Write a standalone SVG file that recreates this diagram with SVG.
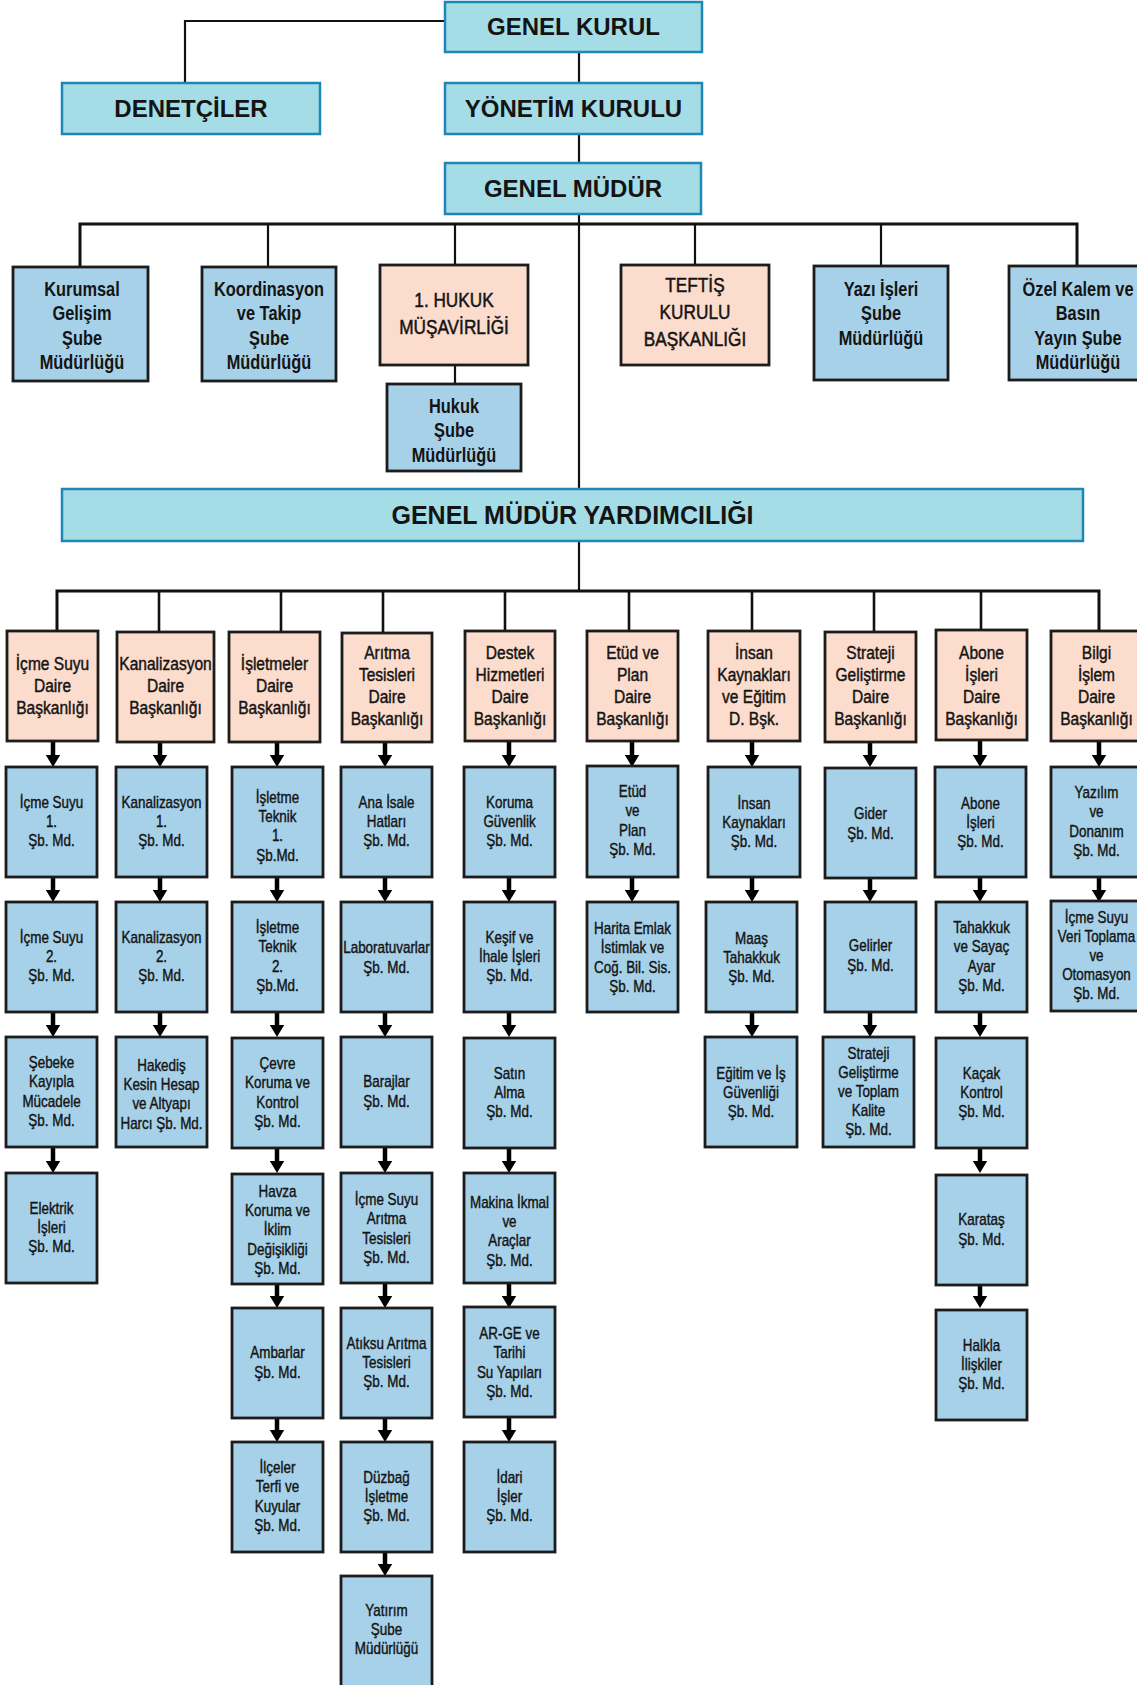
<svg xmlns="http://www.w3.org/2000/svg" width="1137" height="1685" viewBox="0 0 1137 1685">
<defs>
<style>
.c{fill:#a5dde7;stroke:#1f86b6;stroke-width:2.5}
.bx{fill:#a6d1e9;stroke:#1c1c1c;stroke-width:2.8}
.pk{fill:#fcdccc;stroke:#1c1c1c;stroke-width:2.8}
text{font-family:"Liberation Sans",Arial,sans-serif;fill:#141414;text-anchor:middle}
.h{font-size:24px;font-weight:bold}
.b{font-size:19.5px;font-weight:bold}
.pr{font-size:20.5px;stroke:#141414;stroke-width:0.5}
.p{font-size:18.5px;stroke:#141414;stroke-width:0.45}
.s{font-size:16px;stroke:#141414;stroke-width:0.4}
.ln{fill:none;stroke:#111}
.ar{stroke:#000;stroke-width:4.5}
</style>
<marker id="ah" markerUnits="userSpaceOnUse" markerWidth="12.5" markerHeight="15" viewBox="0 0 12.5 15" refX="6" refY="7.5" orient="auto"><path d="M0,0 L12.5,7.5 L0,15 z" fill="#000"/></marker>
</defs>
<rect width="1137" height="1685" fill="#fff"/>

<g id="connectors">
<path class="ln" stroke-width="2.2" d="M445 21 H185 V83"/>
<path class="ln" stroke-width="2.2" d="M579 52 V83 M579 134 V163 M579 214 V489 M579 541 V591"/>
<path class="ln" stroke-width="3" d="M80 267 V224 H1077 V266"/>
<path class="ln" stroke-width="2.2" d="M268 224 V267 M455 224 V265 M695 224 V265 M881 224 V266 M455 365 V384"/>
<path class="ln" stroke-width="3" d="M57 631 V591 H1099 V631"/>
<path class="ln" stroke-width="2.6" d="M159 591 V632 M281 591 V632 M383 591 V633 M505 591 V631 M629 591 V631 M752 591 V631 M874 591 V632 M981 591 V631"/>
<g class="ar" marker-end="url(#ah)">
<line x1="53" y1="741" x2="53" y2="760.5"/><line x1="53" y1="877" x2="53" y2="895.5"/><line x1="53" y1="1012" x2="53" y2="1030.5"/><line x1="53" y1="1147" x2="53" y2="1166.5"/>
<line x1="160" y1="742" x2="160" y2="760.5"/><line x1="160" y1="877" x2="160" y2="895.5"/><line x1="160" y1="1012" x2="160" y2="1030.5"/>
<line x1="277" y1="742" x2="277" y2="760.5"/><line x1="277" y1="877" x2="277" y2="895.5"/><line x1="277" y1="1012" x2="277" y2="1030.5"/><line x1="277" y1="1147" x2="277" y2="1166.5"/><line x1="277" y1="1283" x2="277" y2="1301.5"/><line x1="277" y1="1418" x2="277" y2="1435.5"/>
<line x1="385" y1="742" x2="385" y2="760.5"/><line x1="385" y1="877" x2="385" y2="895.5"/><line x1="385" y1="1012" x2="385" y2="1030.5"/><line x1="385" y1="1147" x2="385" y2="1166.5"/><line x1="385" y1="1283" x2="385" y2="1301.5"/><line x1="385" y1="1418" x2="385" y2="1435.5"/><line x1="385" y1="1552" x2="385" y2="1569.5"/>
<line x1="509" y1="741" x2="509" y2="760.5"/><line x1="509" y1="877" x2="509" y2="895.5"/><line x1="509" y1="1012" x2="509" y2="1030.5"/><line x1="509" y1="1147" x2="509" y2="1166.5"/><line x1="509" y1="1283" x2="509" y2="1301.5"/><line x1="509" y1="1418" x2="509" y2="1435.5"/>
<line x1="632" y1="741" x2="632" y2="760.5"/><line x1="632" y1="877" x2="632" y2="895.5"/>
<line x1="752" y1="741" x2="752" y2="760.5"/><line x1="752" y1="877" x2="752" y2="895.5"/><line x1="752" y1="1012" x2="752" y2="1030.5"/>
<line x1="870" y1="742" x2="870" y2="760.5"/><line x1="870" y1="877" x2="870" y2="895.5"/><line x1="870" y1="1012" x2="870" y2="1030.5"/>
<line x1="980" y1="741" x2="980" y2="760.5"/><line x1="980" y1="877" x2="980" y2="895.5"/><line x1="980" y1="1012" x2="980" y2="1030.5"/><line x1="980" y1="1147" x2="980" y2="1166.5"/><line x1="980" y1="1283" x2="980" y2="1301.5"/>
<line x1="1099" y1="741" x2="1099" y2="760.5"/><line x1="1099" y1="877" x2="1099" y2="895.5"/>
</g>
</g>

<g id="genel-kurul"><rect class="c" x="445" y="2" width="257" height="50"/><text class="h" x="573.5" y="35">GENEL KURUL</text></g>
<g id="denetciler"><rect class="c" x="62" y="83" width="258" height="51"/><text class="h" x="191" y="117">DENETÇİLER</text></g>
<g id="yonetim-kurulu"><rect class="c" x="445" y="83" width="257" height="51"/><text class="h" x="573.5" y="117">YÖNETİM KURULU</text></g>
<g id="genel-mudur"><rect class="c" x="445" y="163" width="256" height="51"/><text class="h" x="573" y="197">GENEL MÜDÜR</text></g>

<g id="kurumsal"><rect class="bx" x="13" y="267" width="135" height="114"/><text class="b" transform="translate(82 0) scale(.84 1)"><tspan x="0" y="296">Kurumsal</tspan><tspan x="0" y="320.3">Gelişim</tspan><tspan x="0" y="344.6">Şube</tspan><tspan x="0" y="369">Müdürlüğü</tspan></text></g>
<g id="koordinasyon"><rect class="bx" x="202" y="267" width="134" height="114"/><text class="b" transform="translate(269 0) scale(.84 1)"><tspan x="0" y="296">Koordinasyon</tspan><tspan x="0" y="320.3">ve Takip</tspan><tspan x="0" y="344.6">Şube</tspan><tspan x="0" y="369">Müdürlüğü</tspan></text></g>
<g id="hukuk-musavirligi"><rect class="pk" x="380" y="265" width="148" height="100"/><text class="pr" transform="translate(454 0) scale(.84 1)"><tspan x="0" y="307">1. HUKUK</tspan><tspan x="0" y="334">MÜŞAVİRLİĞİ</tspan></text></g>
<g id="hukuk-sube"><rect class="bx" x="387" y="384" width="134" height="87"/><text class="b" transform="translate(454 0) scale(.84 1)"><tspan x="0" y="413">Hukuk</tspan><tspan x="0" y="437.5">Şube</tspan><tspan x="0" y="462">Müdürlüğü</tspan></text></g>
<g id="teftis"><rect class="pk" x="621" y="265" width="148" height="100"/><text class="pr" transform="translate(695 0) scale(.84 1)"><tspan x="0" y="292">TEFTİŞ</tspan><tspan x="0" y="319">KURULU</tspan><tspan x="0" y="346">BAŞKANLIĞI</tspan></text></g>
<g id="yazi-isleri"><rect class="bx" x="814" y="266" width="134" height="114"/><text class="b" transform="translate(881 0) scale(.84 1)"><tspan x="0" y="296">Yazı İşleri</tspan><tspan x="0" y="320.3">Şube</tspan><tspan x="0" y="344.6">Müdürlüğü</tspan></text></g>
<g id="ozel-kalem"><rect class="bx" x="1009" y="266" width="140" height="114"/><text class="b" transform="translate(1078 0) scale(.84 1)"><tspan x="0" y="296">Özel Kalem ve</tspan><tspan x="0" y="320.3">Basın</tspan><tspan x="0" y="344.6">Yayın Şube</tspan><tspan x="0" y="369">Müdürlüğü</tspan></text></g>

<g id="gmy"><rect class="c" x="62" y="489" width="1021" height="52"/><text class="h" style="font-size:25px" x="572.5" y="524">GENEL MÜDÜR YARDIMCILIĞI</text></g>

<g id="d-icmesuyu"><rect class="pk" x="7" y="631" width="91" height="110"/><text class="p" transform="translate(52.5 0) scale(.84 1)"><tspan x="0" y="670.5">İçme Suyu</tspan><tspan x="0" y="692.5">Daire</tspan><tspan x="0" y="714.5">Başkanlığı</tspan></text></g>
<g id="d-kanalizasyon"><rect class="pk" x="117" y="632" width="97" height="110"/><text class="p" transform="translate(165.5 0) scale(.84 1)"><tspan x="0" y="670.5">Kanalizasyon</tspan><tspan x="0" y="692.5">Daire</tspan><tspan x="0" y="714.5">Başkanlığı</tspan></text></g>
<g id="d-isletmeler"><rect class="pk" x="229" y="632" width="91" height="110"/><text class="p" transform="translate(274.5 0) scale(.84 1)"><tspan x="0" y="670.5">İşletmeler</tspan><tspan x="0" y="692.5">Daire</tspan><tspan x="0" y="714.5">Başkanlığı</tspan></text></g>
<g id="d-aritma"><rect class="pk" x="342" y="633" width="90" height="109"/><text class="p" transform="translate(387 0) scale(.84 1)"><tspan x="0" y="659.5">Arıtma</tspan><tspan x="0" y="681.5">Tesisleri</tspan><tspan x="0" y="703.5">Daire</tspan><tspan x="0" y="725.5">Başkanlığı</tspan></text></g>
<g id="d-destek"><rect class="pk" x="465" y="631" width="90" height="110"/><text class="p" transform="translate(510 0) scale(.84 1)"><tspan x="0" y="659.5">Destek</tspan><tspan x="0" y="681.5">Hizmetleri</tspan><tspan x="0" y="703.5">Daire</tspan><tspan x="0" y="725.5">Başkanlığı</tspan></text></g>
<g id="d-etud"><rect class="pk" x="587" y="631" width="91" height="110"/><text class="p" transform="translate(632.5 0) scale(.84 1)"><tspan x="0" y="659.5">Etüd ve</tspan><tspan x="0" y="681.5">Plan</tspan><tspan x="0" y="703.5">Daire</tspan><tspan x="0" y="725.5">Başkanlığı</tspan></text></g>
<g id="d-insan"><rect class="pk" x="708" y="631" width="92" height="110"/><text class="p" transform="translate(754 0) scale(.84 1)"><tspan x="0" y="659.5">İnsan</tspan><tspan x="0" y="681.5">Kaynakları</tspan><tspan x="0" y="703.5">ve Eğitim</tspan><tspan x="0" y="725.5">D. Bşk.</tspan></text></g>
<g id="d-strateji"><rect class="pk" x="825" y="632" width="91" height="110"/><text class="p" transform="translate(870.5 0) scale(.84 1)"><tspan x="0" y="659.5">Strateji</tspan><tspan x="0" y="681.5">Geliştirme</tspan><tspan x="0" y="703.5">Daire</tspan><tspan x="0" y="725.5">Başkanlığı</tspan></text></g>
<g id="d-abone"><rect class="pk" x="936" y="630" width="91" height="110"/><text class="p" transform="translate(981.5 0) scale(.84 1)"><tspan x="0" y="659.5">Abone</tspan><tspan x="0" y="681.5">İşleri</tspan><tspan x="0" y="703.5">Daire</tspan><tspan x="0" y="725.5">Başkanlığı</tspan></text></g>
<g id="d-bilgi"><rect class="pk" x="1051" y="631" width="95" height="110"/><text class="p" transform="translate(1096.5 0) scale(.84 1)"><tspan x="0" y="659.5">Bilgi</tspan><tspan x="0" y="681.5">İşlem</tspan><tspan x="0" y="703.5">Daire</tspan><tspan x="0" y="725.5">Başkanlığı</tspan></text></g>

<g id="c1-r1"><rect class="bx" x="6" y="767" width="91" height="110"/><text class="s" transform="translate(51.5 0) scale(.84 1)"><tspan x="0" y="807.8">İçme Suyu</tspan><tspan x="0" y="827">1.</tspan><tspan x="0" y="846.2">Şb. Md.</tspan></text></g>
<g id="c1-r2"><rect class="bx" x="6" y="902" width="91" height="110"/><text class="s" transform="translate(51.5 0) scale(.84 1)"><tspan x="0" y="942.8">İçme Suyu</tspan><tspan x="0" y="962">2.</tspan><tspan x="0" y="981.2">Şb. Md.</tspan></text></g>
<g id="c1-r3"><rect class="bx" x="6" y="1037" width="91" height="110"/><text class="s" transform="translate(51.5 0) scale(.84 1)"><tspan x="0" y="1068.2">Şebeke</tspan><tspan x="0" y="1087.4">Kayıpla</tspan><tspan x="0" y="1106.6">Mücadele</tspan><tspan x="0" y="1125.8">Şb. Md.</tspan></text></g>
<g id="c1-r4"><rect class="bx" x="6" y="1173" width="91" height="110"/><text class="s" transform="translate(51.5 0) scale(.84 1)"><tspan x="0" y="1213.8">Elektrik</tspan><tspan x="0" y="1233">İşleri</tspan><tspan x="0" y="1252.2">Şb. Md.</tspan></text></g>

<g id="c2-r1"><rect class="bx" x="116" y="767" width="91" height="110"/><text class="s" transform="translate(161.5 0) scale(.84 1)"><tspan x="0" y="807.8">Kanalizasyon</tspan><tspan x="0" y="827">1.</tspan><tspan x="0" y="846.2">Şb. Md.</tspan></text></g>
<g id="c2-r2"><rect class="bx" x="116" y="902" width="91" height="110"/><text class="s" transform="translate(161.5 0) scale(.84 1)"><tspan x="0" y="942.8">Kanalizasyon</tspan><tspan x="0" y="962">2.</tspan><tspan x="0" y="981.2">Şb. Md.</tspan></text></g>
<g id="c2-r3"><rect class="bx" x="116" y="1037" width="91" height="110"/><text class="s" transform="translate(161.5 0) scale(.84 1)"><tspan x="0" y="1071">Hakediş</tspan><tspan x="0" y="1090.2">Kesin Hesap</tspan><tspan x="0" y="1109.4">ve Altyapı</tspan><tspan x="0" y="1128.6">Harcı Şb. Md.</tspan></text></g>

<g id="c3-r1"><rect class="bx" x="232" y="767" width="91" height="110"/><text class="s" transform="translate(277.5 0) scale(.84 1)"><tspan x="0" y="803">İşletme</tspan><tspan x="0" y="822.2">Teknik</tspan><tspan x="0" y="841.4">1.</tspan><tspan x="0" y="860.6">Şb.Md.</tspan></text></g>
<g id="c3-r2"><rect class="bx" x="232" y="902" width="91" height="110"/><text class="s" transform="translate(277.5 0) scale(.84 1)"><tspan x="0" y="933.2">İşletme</tspan><tspan x="0" y="952.4">Teknik</tspan><tspan x="0" y="971.6">2.</tspan><tspan x="0" y="990.8">Şb.Md.</tspan></text></g>
<g id="c3-r3"><rect class="bx" x="232" y="1038" width="91" height="110"/><text class="s" transform="translate(277.5 0) scale(.84 1)"><tspan x="0" y="1069.2">Çevre</tspan><tspan x="0" y="1088.4">Koruma ve</tspan><tspan x="0" y="1107.6">Kontrol</tspan><tspan x="0" y="1126.8">Şb. Md.</tspan></text></g>
<g id="c3-r4"><rect class="bx" x="232" y="1174" width="91" height="110"/><text class="s" transform="translate(277.5 0) scale(.84 1)"><tspan x="0" y="1197">Havza</tspan><tspan x="0" y="1216.2">Koruma ve</tspan><tspan x="0" y="1235.4">İklim</tspan><tspan x="0" y="1254.6">Değişikliği</tspan><tspan x="0" y="1273.8">Şb. Md.</tspan></text></g>
<g id="c3-r5"><rect class="bx" x="232" y="1308" width="91" height="110"/><text class="s" transform="translate(277.5 0) scale(.84 1)"><tspan x="0" y="1358.4">Ambarlar</tspan><tspan x="0" y="1377.6">Şb. Md.</tspan></text></g>
<g id="c3-r6"><rect class="bx" x="232" y="1442" width="91" height="110"/><text class="s" transform="translate(277.5 0) scale(.84 1)"><tspan x="0" y="1473.2">İlçeler</tspan><tspan x="0" y="1492.4">Terfi ve</tspan><tspan x="0" y="1511.6">Kuyular</tspan><tspan x="0" y="1530.8">Şb. Md.</tspan></text></g>

<g id="c4-r1"><rect class="bx" x="341" y="767" width="91" height="110"/><text class="s" transform="translate(386.5 0) scale(.84 1)"><tspan x="0" y="807.8">Ana İsale</tspan><tspan x="0" y="827">Hatları</tspan><tspan x="0" y="846.2">Şb. Md.</tspan></text></g>
<g id="c4-r2"><rect class="bx" x="341" y="902" width="91" height="110"/><text class="s" transform="translate(386.5 0) scale(.84 1)"><tspan x="0" y="953.4">Laboratuvarlar</tspan><tspan x="0" y="972.6">Şb. Md.</tspan></text></g>
<g id="c4-r3"><rect class="bx" x="341" y="1037" width="91" height="110"/><text class="s" transform="translate(386.5 0) scale(.84 1)"><tspan x="0" y="1087.4">Barajlar</tspan><tspan x="0" y="1106.6">Şb. Md.</tspan></text></g>
<g id="c4-r4"><rect class="bx" x="341" y="1173" width="91" height="110"/><text class="s" transform="translate(386.5 0) scale(.84 1)"><tspan x="0" y="1205.2">İçme Suyu</tspan><tspan x="0" y="1224.4">Arıtma</tspan><tspan x="0" y="1243.6">Tesisleri</tspan><tspan x="0" y="1262.8">Şb. Md.</tspan></text></g>
<g id="c4-r5"><rect class="bx" x="341" y="1308" width="91" height="110"/><text class="s" transform="translate(386.5 0) scale(.84 1)"><tspan x="0" y="1348.8">Atıksu Arıtma</tspan><tspan x="0" y="1368">Tesisleri</tspan><tspan x="0" y="1387.2">Şb. Md.</tspan></text></g>
<g id="c4-r6"><rect class="bx" x="341" y="1442" width="91" height="110"/><text class="s" transform="translate(386.5 0) scale(.84 1)"><tspan x="0" y="1482.8">Düzbağ</tspan><tspan x="0" y="1502">İşletme</tspan><tspan x="0" y="1521.2">Şb. Md.</tspan></text></g>
<g id="c4-r7"><rect class="bx" x="341" y="1576" width="91" height="120"/><text class="s" transform="translate(386.5 0) scale(.84 1)"><tspan x="0" y="1616">Yatırım</tspan><tspan x="0" y="1635.2">Şube</tspan><tspan x="0" y="1654.4">Müdürlüğü</tspan></text></g>

<g id="c5-r1"><rect class="bx" x="464" y="767" width="91" height="110"/><text class="s" transform="translate(509.5 0) scale(.84 1)"><tspan x="0" y="807.8">Koruma</tspan><tspan x="0" y="827">Güvenlik</tspan><tspan x="0" y="846.2">Şb. Md.</tspan></text></g>
<g id="c5-r2"><rect class="bx" x="464" y="902" width="91" height="110"/><text class="s" transform="translate(509.5 0) scale(.84 1)"><tspan x="0" y="942.8">Keşif ve</tspan><tspan x="0" y="962">İhale İşleri</tspan><tspan x="0" y="981.2">Şb. Md.</tspan></text></g>
<g id="c5-r3"><rect class="bx" x="464" y="1038" width="91" height="110"/><text class="s" transform="translate(509.5 0) scale(.84 1)"><tspan x="0" y="1078.8">Satın</tspan><tspan x="0" y="1098">Alma</tspan><tspan x="0" y="1117.2">Şb. Md.</tspan></text></g>
<g id="c5-r4"><rect class="bx" x="464" y="1173" width="91" height="110"/><text class="s" transform="translate(509.5 0) scale(.84 1)"><tspan x="0" y="1208">Makina İkmal</tspan><tspan x="0" y="1227.2">ve</tspan><tspan x="0" y="1246.4">Araçlar</tspan><tspan x="0" y="1265.6">Şb. Md.</tspan></text></g>
<g id="c5-r5"><rect class="bx" x="464" y="1307" width="91" height="110"/><text class="s" transform="translate(509.5 0) scale(.84 1)"><tspan x="0" y="1339.2">AR-GE ve</tspan><tspan x="0" y="1358.4">Tarihi</tspan><tspan x="0" y="1377.6">Su Yapıları</tspan><tspan x="0" y="1396.8">Şb. Md.</tspan></text></g>
<g id="c5-r6"><rect class="bx" x="464" y="1442" width="91" height="110"/><text class="s" transform="translate(509.5 0) scale(.84 1)"><tspan x="0" y="1482.8">İdari</tspan><tspan x="0" y="1502">İşler</tspan><tspan x="0" y="1521.2">Şb. Md.</tspan></text></g>

<g id="c6-r1"><rect class="bx" x="587" y="766" width="91" height="111"/><text class="s" transform="translate(632.5 0) scale(.84 1)"><tspan x="0" y="797.2">Etüd</tspan><tspan x="0" y="816.4">ve</tspan><tspan x="0" y="835.6">Plan</tspan><tspan x="0" y="854.8">Şb. Md.</tspan></text></g>
<g id="c6-r2"><rect class="bx" x="587" y="902" width="91" height="110"/><text class="s" transform="translate(632.5 0) scale(.84 1)"><tspan x="0" y="934.2">Harita Emlak</tspan><tspan x="0" y="953.4">İstimlak ve</tspan><tspan x="0" y="972.6">Coğ. Bil. Sis.</tspan><tspan x="0" y="991.8">Şb. Md.</tspan></text></g>

<g id="c7-r1"><rect class="bx" x="708" y="767" width="92" height="110"/><text class="s" transform="translate(754 0) scale(.84 1)"><tspan x="0" y="808.8">İnsan</tspan><tspan x="0" y="828">Kaynakları</tspan><tspan x="0" y="847.2">Şb. Md.</tspan></text></g>
<g id="c7-r2"><rect class="bx" x="706" y="902" width="91" height="110"/><text class="s" transform="translate(751.5 0) scale(.84 1)"><tspan x="0" y="943.8">Maaş</tspan><tspan x="0" y="963">Tahakkuk</tspan><tspan x="0" y="982.2">Şb. Md.</tspan></text></g>
<g id="c7-r3"><rect class="bx" x="705" y="1037" width="92" height="110"/><text class="s" transform="translate(751 0) scale(.84 1)"><tspan x="0" y="1078.8">Eğitim ve İş</tspan><tspan x="0" y="1098">Güvenliği</tspan><tspan x="0" y="1117.2">Şb. Md.</tspan></text></g>

<g id="c8-r1"><rect class="bx" x="825" y="768" width="91" height="110"/><text class="s" transform="translate(870.5 0) scale(.84 1)"><tspan x="0" y="819.4">Gider</tspan><tspan x="0" y="838.6">Şb. Md.</tspan></text></g>
<g id="c8-r2"><rect class="bx" x="825" y="902" width="91" height="110"/><text class="s" transform="translate(870.5 0) scale(.84 1)"><tspan x="0" y="951.4">Gelirler</tspan><tspan x="0" y="970.6">Şb. Md.</tspan></text></g>
<g id="c8-r3"><rect class="bx" x="823" y="1037" width="91" height="110"/><text class="s" transform="translate(868.5 0) scale(.84 1)"><tspan x="0" y="1058.6">Strateji</tspan><tspan x="0" y="1077.8">Geliştirme</tspan><tspan x="0" y="1097">ve Toplam</tspan><tspan x="0" y="1116.2">Kalite</tspan><tspan x="0" y="1135.4">Şb. Md.</tspan></text></g>

<g id="c9-r1"><rect class="bx" x="935" y="767" width="91" height="110"/><text class="s" transform="translate(980.5 0) scale(.84 1)"><tspan x="0" y="808.8">Abone</tspan><tspan x="0" y="828">İşleri</tspan><tspan x="0" y="847.2">Şb. Md.</tspan></text></g>
<g id="c9-r2"><rect class="bx" x="936" y="902" width="91" height="110"/><text class="s" transform="translate(981.5 0) scale(.84 1)"><tspan x="0" y="933.2">Tahakkuk</tspan><tspan x="0" y="952.4">ve Sayaç</tspan><tspan x="0" y="971.6">Ayar</tspan><tspan x="0" y="990.8">Şb. Md.</tspan></text></g>
<g id="c9-r3"><rect class="bx" x="936" y="1038" width="91" height="110"/><text class="s" transform="translate(981.5 0) scale(.84 1)"><tspan x="0" y="1078.8">Kaçak</tspan><tspan x="0" y="1098">Kontrol</tspan><tspan x="0" y="1117.2">Şb. Md.</tspan></text></g>
<g id="c9-r4"><rect class="bx" x="936" y="1175" width="91" height="110"/><text class="s" transform="translate(981.5 0) scale(.84 1)"><tspan x="0" y="1225.4">Karataş</tspan><tspan x="0" y="1244.6">Şb. Md.</tspan></text></g>
<g id="c9-r5"><rect class="bx" x="936" y="1310" width="91" height="110"/><text class="s" transform="translate(981.5 0) scale(.84 1)"><tspan x="0" y="1350.8">Halkla</tspan><tspan x="0" y="1370">İlişkiler</tspan><tspan x="0" y="1389.2">Şb. Md.</tspan></text></g>

<g id="c10-r1"><rect class="bx" x="1051" y="767" width="95" height="110"/><text class="s" transform="translate(1096.5 0) scale(.84 1)"><tspan x="0" y="798.2">Yazılım</tspan><tspan x="0" y="817.4">ve</tspan><tspan x="0" y="836.6">Donanım</tspan><tspan x="0" y="855.8">Şb. Md.</tspan></text></g>
<g id="c10-r2"><rect class="bx" x="1051" y="901" width="95" height="110"/><text class="s" transform="translate(1096.5 0) scale(.84 1)"><tspan x="0" y="922.6">İçme Suyu</tspan><tspan x="0" y="941.8">Veri Toplama</tspan><tspan x="0" y="961">ve</tspan><tspan x="0" y="980.2">Otomasyon</tspan><tspan x="0" y="999.4">Şb. Md.</tspan></text></g>
</svg>
